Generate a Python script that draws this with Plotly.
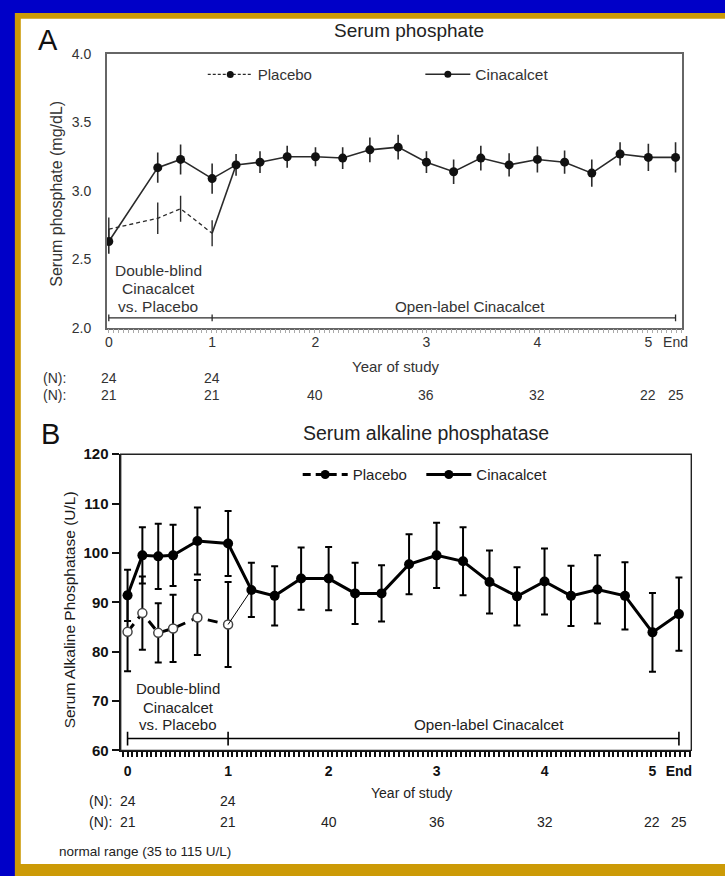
import plotly.graph_objects as go

W, H = 725, 876

# ---------------- data ----------------
# x positions (study years)
years_db_a = [0.00, 0.45, 0.66, 0.95]
years_db_b = [0.00, 0.14, 0.29, 0.43, 0.66, 0.95]
years_ol = [1.17, 1.39, 1.64, 1.90, 2.15, 2.40, 2.66, 2.92, 3.17, 3.42,
            3.68, 3.94, 4.19, 4.44, 4.70, 4.96, 5.21]

# Panel A: serum phosphate (mg/dL)
phos_cina_db = [2.63, 3.17, 3.23, 3.09]
phos_cina_db_err = [0.09, 0.11, 0.11, 0.11]
phos_plac_db = [2.72, 2.80, 2.87, 2.69]
phos_plac_db_err = [0.085, 0.115, 0.095, 0.095]
phos_ol = [3.19, 3.21, 3.25, 3.25, 3.24, 3.30, 3.32, 3.21, 3.14, 3.24,
           3.19, 3.23, 3.21, 3.13, 3.27, 3.245, 3.245]
phos_ol_err = [0.08, 0.08, 0.08, 0.07, 0.08, 0.09, 0.09, 0.08, 0.09, 0.09,
               0.085, 0.095, 0.085, 0.10, 0.085, 0.10, 0.11]

# Panel B: serum alkaline phosphatase (U/L)
alp_cina_db = [91.4, 99.5, 99.3, 99.5, 102.4, 101.9]
alp_cina_db_err = [5.2, 5.7, 6.6, 6.2, 6.8, 6.6]
alp_plac_db = [84.0, 87.8, 83.8, 84.7, 86.9, 85.5]
alp_plac_db_err = [8.0, 7.4, 6.0, 6.8, 7.6, 8.6]
alp_ol = [92.5, 91.3, 94.8, 94.8, 91.8, 91.8, 97.7, 99.5, 98.3, 94.1,
          91.2, 94.2, 91.3, 92.6, 91.3, 83.9, 87.6]
alp_ol_err = [5.5, 6.0, 6.3, 6.4, 6.2, 5.7, 6.1, 6.6, 6.9, 6.4,
              5.9, 6.7, 6.1, 6.9, 6.8, 8.0, 7.4]

year_tick_vals = [0.00, 0.95, 1.90, 2.92, 3.94, 4.96, 5.21]
year_tick_labels = ["0", "1", "2", "3", "4", "5", "End"]

n_placebo_x = [0.00, 0.95]
n_placebo = ["24", "24"]
n_cina_x = [0.00, 0.95, 1.90, 2.92, 3.94, 4.96, 5.21]
n_cina = ["21", "21", "40", "36", "32", "22", "25"]

FONT = "Liberation Sans, Arial, sans-serif"
GA = "#2a2a2a"   # panel A ink
TA = "#333333"
GB = "#000000"


def P(x):
    return x / W


def Q(y):
    return 1 - y / H


fig = go.Figure()

# ---------------- Panel A traces ----------------
fig.add_trace(go.Scatter(
    x=years_db_a, y=phos_plac_db, mode="lines",
    line=dict(color=GA, width=1.3, dash="4px,3px"),
    error_y=dict(type="data", array=phos_plac_db_err, width=0, thickness=1.4, color=GA),
    xaxis="x", yaxis="y", showlegend=False, hoverinfo="skip"))
fig.add_trace(go.Scatter(
    x=[years_db_a[-1], years_ol[0]], y=[phos_plac_db[-1], phos_ol[0]], mode="lines",
    line=dict(color=GA, width=1.6), xaxis="x", yaxis="y", showlegend=False))
fig.add_trace(go.Scatter(
    x=years_db_a + years_ol, y=phos_cina_db + phos_ol, mode="lines+markers",
    line=dict(color=GA, width=1.6), marker=dict(color="#111", size=9),
    error_y=dict(type="data", array=phos_cina_db_err + phos_ol_err, width=0,
                 thickness=1.6, color=GA),
    xaxis="x", yaxis="y", showlegend=False))
# legend entries A
fig.add_trace(go.Scatter(
    x=[None], y=[None], mode="lines+markers", name="Placebo",
    line=dict(color=GA, width=1.3, dash="3px,2px"), marker=dict(color="#111", size=7),
    xaxis="x", yaxis="y", legend="legend"))
fig.add_trace(go.Scatter(
    x=[None], y=[None], mode="lines+markers", name="Cinacalcet",
    line=dict(color=GA, width=1.5), marker=dict(color="#111", size=7),
    xaxis="x", yaxis="y", legend="legend2"))

# ---------------- Panel B traces ----------------
fig.add_trace(go.Scatter(
    x=years_db_b, y=alp_plac_db, mode="lines+markers",
    line=dict(color=GB, width=3, dash="10px,7px"),
    marker=dict(color="white", size=9, line=dict(color="#444", width=1.5)),
    error_y=dict(type="data", array=alp_plac_db_err, width=3.5, thickness=2, color=GB),
    xaxis="x2", yaxis="y2", showlegend=False))
fig.add_trace(go.Scatter(
    x=[years_db_b[-1], years_ol[0]], y=[alp_plac_db[-1], alp_ol[0]], mode="lines",
    line=dict(color=GB, width=1), xaxis="x2", yaxis="y2", showlegend=False))
fig.add_trace(go.Scatter(
    x=years_db_b + years_ol, y=alp_cina_db + alp_ol, mode="lines+markers",
    line=dict(color=GB, width=3), marker=dict(color=GB, size=10),
    error_y=dict(type="data", array=alp_cina_db_err + alp_ol_err, width=3.5,
                 thickness=2, color=GB),
    xaxis="x2", yaxis="y2", showlegend=False))
fig.add_trace(go.Scatter(
    x=[None], y=[None], mode="lines+markers", name="Placebo",
    line=dict(color=GB, width=3, dash="8px,5px"), marker=dict(color=GB, size=9),
    xaxis="x2", yaxis="y2", legend="legend3"))
fig.add_trace(go.Scatter(
    x=[None], y=[None], mode="lines+markers", name="Cinacalcet",
    line=dict(color=GB, width=3), marker=dict(color=GB, size=9),
    xaxis="x2", yaxis="y2", legend="legend4"))

# ---------------- shapes ----------------
shapes = [
    dict(type="rect", xref="paper", yref="paper", x0=P(13), x1=1.01, y0=-0.01, y1=Q(4),
         fillcolor="#CC9A06", line=dict(width=0), layer="below"),
    dict(type="rect", xref="paper", yref="paper", x0=P(19), x1=1.01, y0=Q(872), y1=Q(10),
         fillcolor="white", line=dict(width=0), layer="below"),
    # thinner top/right frame of panel B
    dict(type="rect", xref="x2 domain", yref="y2 domain", x0=0, x1=1, y0=0, y1=1,
         line=dict(color="#222", width=1.4)),
]
# period brackets
for xa, yy, half, col, lw in (("x", 315, 3.5, GA, 1.3), ("x2", 744, 7, GB, 1.6)):
    x_start = years_db_a[0] if xa == "x" else years_db_b[0]
    x_mid = years_db_a[-1] if xa == "x" else years_db_b[-1]
    x_end = years_ol[-1]
    shapes.append(dict(type="line", xref=xa, yref="paper", x0=x_start, x1=x_end,
                       y0=Q(yy), y1=Q(yy), line=dict(color=col, width=lw)))
    for xv in (x_start, x_mid, x_end):
        shapes.append(dict(type="line", xref=xa, yref="paper", x0=xv, x1=xv,
                           y0=Q(yy - half), y1=Q(yy + half), line=dict(color=col, width=lw)))


# ---------------- annotations ----------------
def txt(text, x, y, size, color, xanchor="center", angle=0, weight="normal"):
    return dict(text=text, xref="paper", yref="paper", x=P(x), y=Q(y), showarrow=False,
                xanchor=xanchor, yanchor="middle", textangle=angle,
                font=dict(family=FONT, size=size, color=color, weight=weight))


ann = [
    txt("A", 47, 32, 29, "#111"),
    txt("Serum phosphate", 412, 22, 19, "#222"),
    txt("Serum phosphate (mg/dL)", 55, 188, 16, TA, angle=-90),
    txt("Double-blind", 158, 267, 15.5, TA),
    txt("Cinacalcet", 158, 285, 15.5, TA),
    txt("vs. Placebo", 158, 303, 15.5, TA),
    txt("Open-label Cinacalcet", 473, 303, 15.2, TA),
    txt("Year of study", 398, 365, 15, TA),
    txt("(N):", 39, 376, 14, TA, xanchor="left"),
    txt("(N):", 39, 394, 14, TA, xanchor="left"),
    txt("B", 49, 433, 29, "#111"),
    txt("Serum alkaline phosphatase", 429, 432, 19.5, "#222"),
    txt("Serum Alkaline Phosphatase (U/L)", 68, 613, 15.5, "#1a1a1a", angle=-90),
    txt("Double-blind", 178, 693, 15, "#222"),
    txt("Cinacalcet", 178, 712, 15, "#222"),
    txt("vs. Placebo", 178, 730, 15, "#222"),
    txt("Open-label Cinacalcet", 492, 730, 15.2, "#222"),
    txt("Year of study", 414, 800, 14, "#222"),
    txt("(N):", 86, 808, 14, "#222", xanchor="left"),
    txt("(N):", 86, 829, 14, "#222", xanchor="left"),
    txt("normal range (35 to 115 U/L)", 56, 859, 13.5, "#222", xanchor="left"),
]
for xa, ys in (("x", (376, 394)), ("x2", (808, 829))):
    col = TA if xa == "x" else "#222"
    for xv, t in zip(n_placebo_x, n_placebo):
        ann.append(dict(text=t, xref=xa, yref="paper", x=xv, y=Q(ys[0]), showarrow=False,
                        xanchor="center", yanchor="middle",
                        font=dict(family=FONT, size=14, color=col)))
    for xv, t in zip(n_cina_x, n_cina):
        ann.append(dict(text=t, xref=xa, yref="paper", x=xv, y=Q(ys[1]), showarrow=False,
                        xanchor="center", yanchor="middle",
                        font=dict(family=FONT, size=14, color=col)))

legend_common = dict(orientation="h", xanchor="left", yanchor="middle",
                     bgcolor="rgba(0,0,0,0)", borderwidth=0, itemwidth=45)

fig.update_layout(
    width=W, height=H, autosize=False,
    margin=dict(l=0, r=0, t=0, b=0),
    paper_bgcolor="#0000C8", plot_bgcolor="white",
    font=dict(family=FONT, color=TA),
    shapes=shapes, annotations=ann,
    legend=dict(x=P(203), y=Q(67), font=dict(family=FONT, size=15, color=TA), **legend_common),
    legend2=dict(x=P(423), y=Q(67), font=dict(family=FONT, size=15.5, color=TA), **legend_common),
    legend3=dict(x=P(299), y=Q(475), font=dict(family=FONT, size=15, color="#222"), **legend_common),
    legend4=dict(x=P(424), y=Q(475), font=dict(family=FONT, size=15, color="#222"), **legend_common),
    xaxis=dict(domain=[P(106), P(688)], anchor="y", range=[-0.018, 5.273],
               showline=True, mirror=True, linecolor="#666", linewidth=1.5,
               showgrid=False, zeroline=False,
               tickmode="array", tickvals=year_tick_vals, ticktext=year_tick_labels,
               ticks="", ticklabelstandoff=1,
               tickfont=dict(family=FONT, size=14, color=TA),
               minor=dict(ticks="outside", ticklen=4, tickwidth=1, tickcolor="#aaa",
                          tick0=0, dtick=0.045, showgrid=False)),
    yaxis=dict(domain=[Q(325), Q(46)], anchor="x", range=[2.0, 4.0],
               showline=True, mirror=True, linecolor="#666", linewidth=1.5,
               showgrid=False, zeroline=False, tickmode="linear", tick0=2, dtick=0.5,
               tickformat=".1f", ticks="", ticklabelstandoff=11,
               tickfont=dict(family=FONT, size=14, color=TA)),
    xaxis2=dict(domain=[P(120), P(697)], anchor="y2", range=[-0.065, 5.327],
                showline=True, mirror=False, linecolor="#111", linewidth=2.2,
                showgrid=False, zeroline=False,
                tickmode="array", tickvals=year_tick_vals, ticktext=year_tick_labels,
                ticks="outside", ticklen=5, tickcolor="rgba(0,0,0,0)",
                ticklabelstandoff=2,
                tickfont=dict(family=FONT, size=14, color="#111", weight="bold"),
                minor=dict(ticks="outside", ticklen=5, tickwidth=1.5, tickcolor="#111",
                           tick0=0, dtick=0.045, showgrid=False)),
    yaxis2=dict(domain=[Q(756), Q(454)], anchor="x2", range=[60, 120],
                showline=True, mirror=False, linecolor="#111", linewidth=2.2,
                showgrid=False, zeroline=False, tickmode="linear", tick0=60, dtick=10,
                ticks="outside", ticklen=7, tickwidth=2, tickcolor="#111",
                tickfont=dict(family=FONT, size=15, color="#111", weight="bold")),
)

fig.write_html("out.html")
